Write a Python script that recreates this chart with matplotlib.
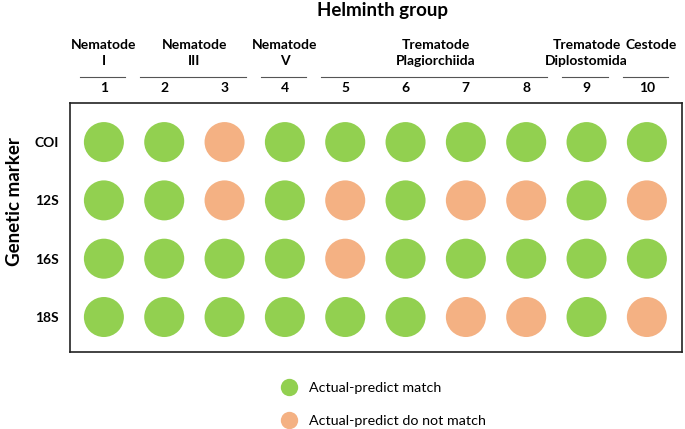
import matplotlib
matplotlib.use("Agg")
import matplotlib.pyplot as plt
from matplotlib.lines import Line2D
import numpy as np

plt.rcParams['font.family'] = ['Lato', 'DejaVu Sans']

markers = ["COI", "12S", "16S", "18S"]
columns = ["1", "2", "3", "4", "5", "6", "7", "8", "9", "10"]
groups = ["Nematode\nI", "Nematode\nIII", "Nematode\nV", "Trematode\nPlagiorchiida",
          "Trematode\nDiplostomida", "Cestode"]
group_start = [1, 2, 4, 5, 9, 10]
group_end = [1, 3, 4, 8, 9, 10]
# 1 = actual-predict match, 0 = do not match
match = [
    [1, 1, 0, 1, 1, 1, 1, 1, 1, 1],
    [1, 1, 0, 1, 0, 1, 0, 0, 1, 0],
    [1, 1, 1, 1, 0, 1, 1, 1, 1, 1],
    [1, 1, 1, 1, 1, 1, 0, 0, 1, 0],
]
legend_labels = ["Actual-predict match", "Actual-predict do not match"]

GREEN = "#92D050"
ORANGE = "#F4B183"

fig = plt.figure(figsize=(6.85, 4.29), dpi=100)
ax = fig.add_axes([0.102, 0.1795, 0.8934, 0.5804])

M = np.array(match)
xs = np.arange(1, len(columns) + 1)
for r in range(len(markers)):
    cols = [GREEN if v else ORANGE for v in M[r]]
    ax.scatter(xs, np.full(len(xs), r), s=830, c=cols, edgecolors='none', zorder=3)

ax.set_xlim(0.436, 10.58)
ax.set_ylim(3.6, -0.67)
ax.set_xticks([])
ax.set_yticks(range(len(markers)))
ax.set_yticklabels(markers, fontsize=10, fontweight='bold')
ax.tick_params(axis='y', length=0, pad=8)
for sp in ax.spines.values():
    sp.set_linewidth(1.2)
    sp.set_color('#222222')

fig.text(0.021, 0.53, "Genetic marker", rotation=90, ha='center', va='center',
         fontsize=13.5, fontweight='bold')

trans = matplotlib.transforms.blended_transform_factory(ax.transData, fig.transFigure)
fig.text(0.558, 0.975, "Helminth group", ha='center', va='center', fontsize=13.5, fontweight='bold')
for g, s, e in zip(groups, group_start, group_end):
    c = (s + e) / 2
    if g == "Cestode":
        c += 0.07
    ax.text(c, 0.909, g, ha='center', va='top', fontsize=10, fontweight='bold',
            transform=trans, linespacing=1.4)
    ax.add_line(Line2D([s - 0.4, e + 0.35], [0.8205, 0.8205], transform=trans,
                       color='#555555', lw=0.8, clip_on=False))
for x, lab in zip(xs, columns):
    ax.text(x, 0.795, lab, ha='center', va='center', fontsize=10, fontweight='bold',
            transform=trans)

handles = [Line2D([], [], marker='o', ls='none', markersize=12.5, color=GREEN, markeredgewidth=0),
           Line2D([], [], marker='o', ls='none', markersize=12.5, color=ORANGE, markeredgewidth=0)]
fig.legend(handles, legend_labels, loc='center left', bbox_to_anchor=(0.393, 0.057),
           frameon=False, fontsize=10.3, handlelength=1.0, handletextpad=0.9, labelspacing=1.45)

fig.savefig("out.png", dpi=100)
